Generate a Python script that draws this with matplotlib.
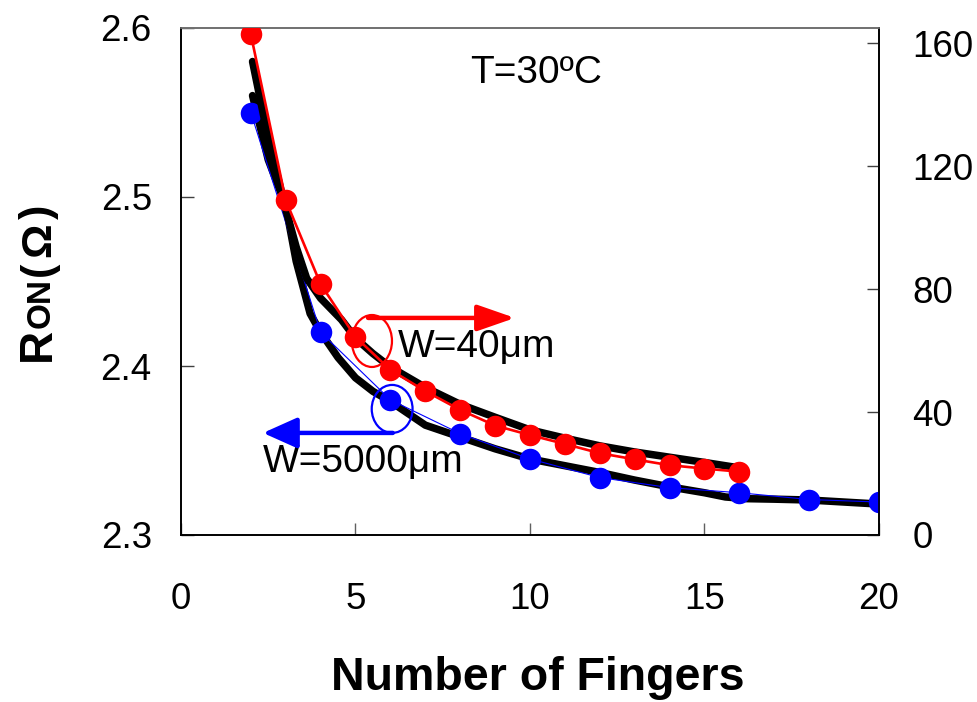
import matplotlib
matplotlib.use("Agg")
import matplotlib.pyplot as plt
from matplotlib.patches import Ellipse

plt.rcParams['font.family'] = ['Liberation Sans', 'DejaVu Sans']

# ---- data ----
fingers_5000 = [2, 4, 6, 8, 10, 12, 14, 16, 18, 20]
ron_5000 = [2.550, 2.420, 2.380, 2.360, 2.345, 2.334, 2.328, 2.325, 2.321, 2.3195]

fingers_40 = [2, 3, 4, 5, 6, 7, 8, 9, 10, 11, 12, 13, 14, 15, 16]
ron_40 = [162.9, 108.9, 81.6, 64.4, 53.7, 46.8, 40.7, 35.6, 32.5, 29.6, 26.6, 24.6, 22.7, 21.6, 20.6]

fit5000_x = [2.05, 2.5, 3.0, 3.3, 3.7, 4.0, 4.5, 5.0, 5.5, 6.0, 7.0, 8.0, 9.0, 10.0, 11.0,
             12.0, 13.0, 14.0, 15.0, 15.6, 16.2, 17.0, 18.0, 19.0, 20.0]
fit5000_y = [2.560, 2.522, 2.495, 2.462, 2.431, 2.420, 2.405, 2.393, 2.385, 2.379, 2.365,
             2.358, 2.351, 2.345, 2.341, 2.337, 2.3325, 2.3285, 2.325, 2.3225, 2.3215,
             2.3212, 2.3207, 2.3195, 2.3183]

fit40_x = [2.05, 2.5, 3.0, 3.3, 3.6, 4.0, 4.6, 5.0, 5.5, 6.0, 7.0, 8.0, 9.0, 10.0, 11.0,
           12.0, 13.0, 14.0, 15.0, 15.9]
fit40_y = [154.0, 129.0, 106.0, 93.7, 83.5, 77.0, 70.0, 64.0, 59.0, 54.6, 48.0, 42.5,
           38.3, 34.2, 31.5, 29.0, 27.0, 25.3, 23.6, 22.0]

xticks = [0, 5, 10, 15, 20]
left_ticks = [2.3, 2.4, 2.5, 2.6]
right_ticks = [0, 40, 80, 120, 160]

W, H = 978, 702
fig = plt.figure(figsize=(W / 100, H / 100), dpi=100)
ax = fig.add_axes([181 / W, 1 - 535 / H, (879 - 181) / W, (535 - 28) / H])
ax2 = ax.twinx()

ax.set_xlim(0, 20)
ax.set_ylim(2.3, 2.6)
ax2.set_ylim(0, 164.9)

# left axis: blue data + fit
ax.plot(fit5000_x, fit5000_y, color='black', lw=5.4, solid_capstyle='round', zorder=2)
ax.plot(fingers_5000, ron_5000, color='#0000ff', lw=0.8, marker='o', ms=15.5,
        markeredgewidth=0, zorder=3)

# right axis: red data + fit
ax2.plot(fit40_x, fit40_y, color='black', lw=5.4, solid_capstyle='round', zorder=2)
ax2.plot(fingers_40, ron_40, color='#ff0000', lw=1.9, marker='o', ms=15.5,
         markeredgewidth=0, zorder=3)

tick_fs = 26.5
ax.set_xticks(xticks)
ax.set_xticklabels([str(v) for v in xticks])
ax.set_yticks(left_ticks)
ax.set_yticklabels([f"{v:.1f}" for v in left_ticks])
ax2.set_yticks(right_ticks)
ax2.set_yticklabels([str(v) for v in right_ticks])

ax.tick_params(axis='x', direction='in', length=9, width=1, color='#606060',
               labelsize=tick_fs, pad=34, top=False)
ax.tick_params(axis='y', direction='in', length=9, width=1, color='#404040',
               labelsize=tick_fs, pad=21)
ax2.tick_params(axis='y', direction='in', length=9, width=1, color='#404040',
                labelsize=tick_fs, pad=24)

for a in (ax, ax2):
    for s in a.spines.values():
        s.set_linewidth(1.2)
        s.set_color('black')
    a.spines['top'].set_color('#707070')

# annotations
ax.text(8.28, 2.5675, 'T=30ºC', fontsize=28, ha='left', va='baseline')
ax2.text(6.22, 57.9, 'W=40μm', fontsize=28, ha='left', va='baseline', zorder=5)
ax.text(2.35, 2.3373, 'W=5000μm', fontsize=28, ha='left', va='baseline', zorder=5)

ax2.annotate('', xy=(9.57, 70.6), xytext=(5.36, 70.6),
             arrowprops=dict(arrowstyle='-|>,head_length=1.15,head_width=0.4',
                             lw=3.2, color='#ff0000', shrinkA=0, shrinkB=0,
                             mutation_scale=20), zorder=5)
ax.annotate('', xy=(2.35, 2.3604), xytext=(6.07, 2.3604),
            arrowprops=dict(arrowstyle='-|>,head_length=1.05,head_width=0.47',
                            lw=3.2, color='#0000ff', shrinkA=0, shrinkB=0,
                            mutation_scale=20), zorder=5)

ax2.add_patch(Ellipse((5.47, 63.1), 1.15, 16.9, fill=False, ec='#ff0000', lw=1.6, zorder=4))
ax.add_patch(Ellipse((6.05, 2.3746), 1.17, 0.0284, fill=False, ec='#0000ff', lw=1.6, zorder=4))

# x label
fig.text(538 / W, 1 - 690 / H, 'Number of Fingers', fontsize=33.5, fontweight='bold',
         ha='center', va='baseline')

# y label composed of R, small ON, (Ω)
fig.canvas.draw()
r = fig.canvas.get_renderer()
xb = 50 / W
y = 1 - 361 / H
for s, fs, gap in [('R', 33, 0), ('ON', 24, 2), ('(', 31, 4), ('Ω', 31, 4), (')', 31, 0)]:
    t = fig.text(xb, y, s, rotation=90, rotation_mode='anchor', ha='left',
                 va='baseline', fontsize=fs, fontweight='bold')
    bb = t.get_window_extent(r)
    y += (bb.height + gap) / H

fig.savefig('out.png', dpi=100)
